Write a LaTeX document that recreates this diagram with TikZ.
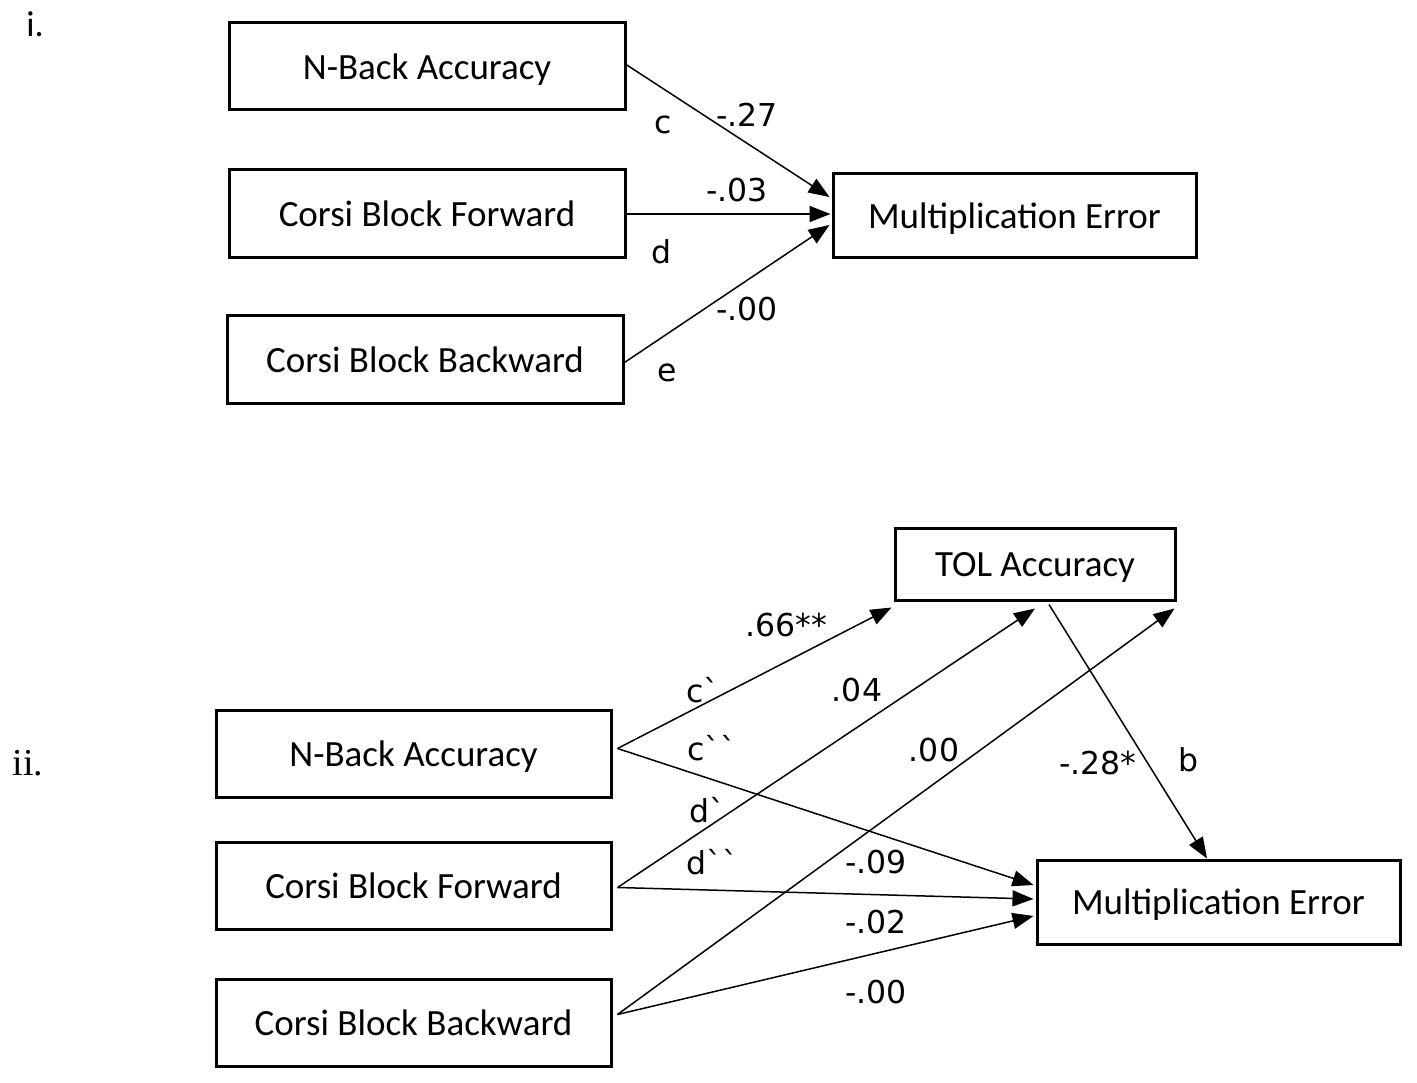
\documentclass[tikz,border=0pt]{standalone}
\usepackage{fontspec}
\usetikzlibrary{arrows.meta}
\newfontfamily\boxfont{Carlito}
\newfontfamily\labfont{DejaVu Sans}
\newfontfamily\romfont{Liberation Serif}
\newcommand{\gr}{\char"60\relax}
\begin{document}
\begin{tikzpicture}[x=1pt,y=-1pt,
  bx/.style={draw=black,line width=3pt,inner sep=0pt,text depth=0pt,font=\boxfont\fontsize{37}{42}\selectfont},
  arr/.style={line width=1.5pt,-{Triangle[length=21pt,width=16pt]}},
  lab/.style={inner sep=0pt,font=\labfont\fontsize{31.5}{36}\selectfont}]
\useasboundingbox (0,0) rectangle (1417,1083);
% part i
\node[inner sep=0pt,font=\boxfont\fontsize{36}{40}\selectfont] (ti) at (35,24) {i.};
\node[bx,minimum width=396pt,minimum height=87pt] (NBa) at (427,66.5) {N-Back Accuracy};
\node[bx,minimum width=396pt,minimum height=88pt] (CFa) at (427,214) {Corsi Block Forward};
\node[bx,minimum width=396pt,minimum height=87pt] (CBa) at (425,359.5) {Corsi Block Backward};
\node[bx,minimum width=363pt,minimum height=84pt] (MEa) at (1014.5,216) {Multiplication Error};
\draw[arr] ([xshift=-2pt,yshift=3pt]NBa.east) -- ([xshift=-2pt,yshift=19pt]MEa.west);
\draw[arr] (CFa.east) -- ([xshift=-1pt,yshift=2pt]MEa.west);
\draw[arr] ([yshift=-3pt]CBa.east) -- ([xshift=-2pt,yshift=-9pt]MEa.west);
\node[lab] (lc) at (663,125) {c};
\node[lab] (l27) at (747,115) {-.27};
\node[lab] (l03) at (737,190) {-.03};
\node[lab] (ld) at (661,252) {d};
\node[lab] (l00a) at (747,309) {-.00};
\node[lab] (le) at (667,373) {e};
% part ii
\node[inner sep=0pt,font=\romfont\fontsize{38}{42}\selectfont] (tii) at (28,763) {ii.};
\node[bx,minimum width=280pt,minimum height=72pt] (TOL) at (1035,564) {TOL Accuracy};
\node[bx,minimum width=395pt,minimum height=87pt] (NBb) at (413.5,753.5) {N-Back Accuracy};
\node[bx,minimum width=395pt,minimum height=87pt] (CFb) at (413.5,885.5) {Corsi Block Forward};
\node[bx,minimum width=395pt,minimum height=87pt] (CBb) at (413.5,1022.5) {Corsi Block Backward};
\node[bx,minimum width=363pt,minimum height=84pt] (MEb) at (1218.5,902) {Multiplication Error};
\draw[arr] ([xshift=5pt,yshift=5pt]NBb.east) -- ([xshift=-2pt,yshift=-6pt]TOL.south west);
\draw[arr] ([xshift=5pt,yshift=5pt]NBb.east) -- ([xshift=-2pt,yshift=17pt]MEb.west);
\draw[arr] ([xshift=5pt,yshift=-2pt]CFb.east) -- ([yshift=-7pt]TOL.south);
\draw[arr] ([xshift=5pt,yshift=-2pt]CFb.east) -- ([xshift=-2pt,yshift=3pt]MEb.west);
\draw[arr] ([xshift=5pt,yshift=8pt]CBb.east) -- ([xshift=-2pt,yshift=-7pt]TOL.south east);
\draw[arr] ([xshift=5pt,yshift=8pt]CBb.east) -- ([xshift=-2pt,yshift=-14pt]MEb.west);
\draw[arr] ([xshift=14pt,yshift=-3pt]TOL.south) -- ([xshift=-11.5pt]MEb.north);
\node[lab] (l66) at (786,625) {.66**};
\node[lab] (lc1) at (703,690) {c\gr};
\node[lab] (l04) at (857,690) {.04};
\node[lab] (lc2) at (712,748) {c\gr\gr};
\node[lab] (l00b) at (934,750) {.00};
\node[lab] (l28) at (1098,763) {-.28*};
\node[lab] (lb) at (1188,760) {b};
\node[lab] (ld1) at (707,810) {d\gr};
\node[lab] (ld2) at (712,862) {d\gr\gr};
\node[lab] (l09) at (876,862) {-.09};
\node[lab] (l02) at (876,922) {-.02};
\node[lab] (l00c) at (876,992) {-.00};
\end{tikzpicture}
\end{document}
